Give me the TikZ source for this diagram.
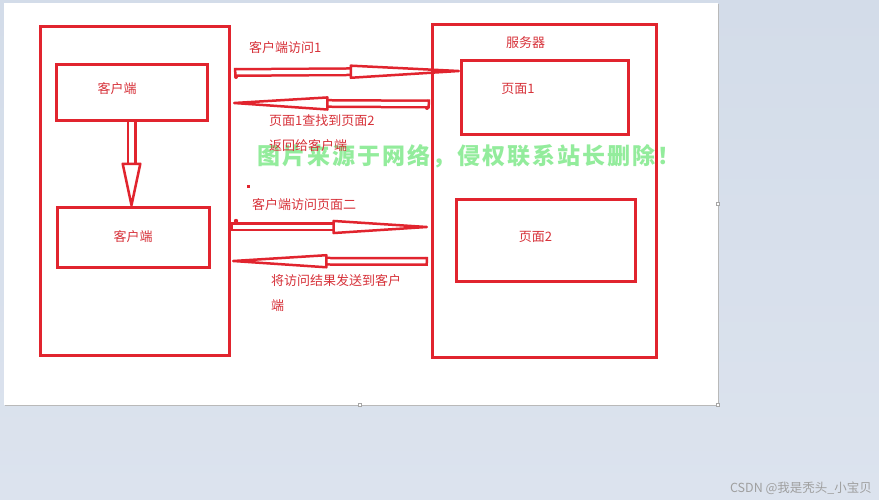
\documentclass[tikz,border=0pt]{standalone}
\usepackage{fontspec}
\newfontfamily\cjk{Noto Sans CJK SC}
\usetikzlibrary{positioning,arrows.meta,shapes}
\definecolor{linered}{HTML}{E1242E}
\definecolor{textred}{HTML}{D7323A}
\definecolor{wmgreen}{HTML}{93EC9C}
\definecolor{bgtop}{HTML}{D3DCE9}
\definecolor{bgbot}{HTML}{DCE3EE}

\begin{document}
\begin{tikzpicture}[
x=1pt, y=-1pt,
box/.style={draw=linered, line width=3pt, inner sep=0pt},
lbl/.style={font=\cjk\fontsize{13}{25}\selectfont, text=textred, inner sep=0pt, align=left},
hollow/.style={draw=linered, line width=2.5pt, double=white, double distance=4pt,
  {Bar[width=9pt, line width=2.5pt]}-{Triangle[open, round, line width=2.5pt, length=#1, width=14pt]}},
hollowv/.style={draw=linered, line width=2.5pt, double=white, double distance=5pt,
  -{Triangle[open, round, line width=2.5pt, length=49pt, width=20pt]}}]
% page and canvas
\shade[top color=bgtop, bottom color=bgbot] (0,0) rectangle (879,500);
\useasboundingbox (0,0) rectangle (879,500);
\fill[white] (4,3) rectangle (718,405);
\draw[gray!55, line width=1pt] (718,4) -- (718,405) -- (5,405);
\foreach \hx/\hy in {360/405, 718/204, 718/405}
  \draw[gray!70, fill=white, line width=.5pt] (\hx-1.5,\hy-1.5) rectangle (\hx+1.5,\hy+1.5);
% watermark under the drawing
\node[font=\cjk\bfseries\fontsize{23}{23}\selectfont\addfontfeature{LetterSpace=8.7}, text=wmgreen, inner sep=0pt] (wm) at (469,156) {图片来源于网络，侵权联系站长删除！};
% client side
\node[box, minimum width=189pt, minimum height=328pt] (client) at (134.5,191) {};
\node[box, minimum width=151pt, minimum height=56pt] (c1) at (131.5,93) {};
\node[box, minimum width=152pt, minimum height=59pt] (c2) at (133,237.5) {};
\node[lbl] (c1t) at (117,89) {客户端};
\node[lbl] (c2t) at (133,237) {客户端};
\draw[hollowv] (c1.south) -- (c1.south |- c2.north);
% server side
\node[box, minimum width=224pt, minimum height=332pt] (server) at (544,191) {};
\node[box, minimum width=167pt, minimum height=74pt] (p1) at (544.5,98) {};
\node[box, minimum width=179pt, minimum height=81pt] (p2) at (545.5,240.5) {};
\node[lbl] (st) at (525.5,43) {服务器};
\node[lbl] (p1t) at (518,89) {页面1};
\node[lbl] (p2t) at (535.5,237) {页面2};
% requests and answers
\coordinate (go1) at (234,72.5);
\coordinate (hit1) at (460,71);
\coordinate (back1) at (430,104);
\coordinate (get1) at (233,103);
\coordinate (go2) at (230,227);
\coordinate (hit2) at (428,227);
\coordinate (back2) at (428,261.5);
\coordinate (get2) at (232,261);
\draw[hollow=133pt] (go1) -- (hit1);
\draw[hollow=115pt] (back1) -- (get1);
\draw[hollow=115pt] (go2) -- (hit2);
\draw[hollow=115pt] (back2) -- (get2);
\node[lbl, anchor=west] (q1) at (249,48) {客户端访问1};
\node[lbl, anchor=west] (r1) at (269,133) {页面1查找到页面2\\返回给客户端};
\node[lbl, anchor=west] (q2) at (252,205) {客户端访问页面二};
\node[lbl, anchor=west] (r2) at (271,293.5) {将访问结果发送到客户\\端};
\fill[linered] (236,77) circle (2pt) (427,108) circle (2pt) (236,221) circle (2.2pt);
\fill[linered] (246.5,185.5) rectangle (249.5,188.5);
% site mark
\node[font=\cjk\fontsize{12.5}{13}\selectfont, text=gray!75, inner sep=0pt] (csdn) at (801,488) {CSDN @我是秃头\_小宝贝};
\end{tikzpicture}
\end{document}
